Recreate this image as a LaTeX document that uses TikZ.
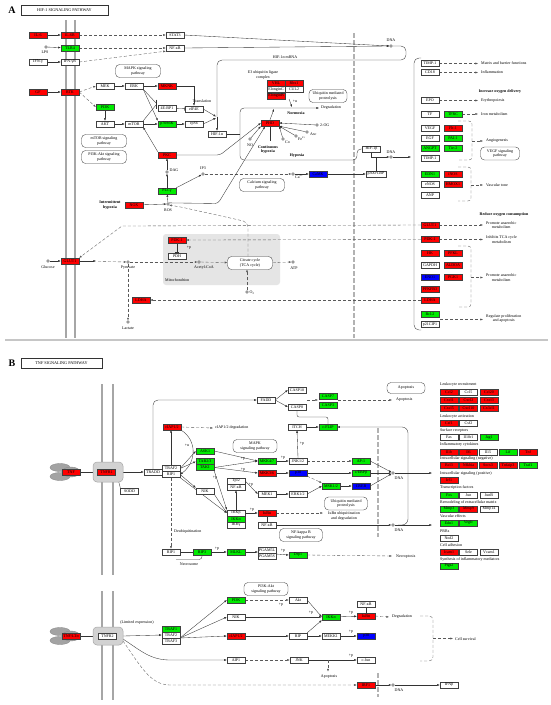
\documentclass[tikz,border=0pt]{standalone}
\usepackage{fontspec}
\setmainfont{Liberation Serif}
\usetikzlibrary{arrows.meta}
\pgfdeclarelayer{bgz}
\pgfdeclarelayer{bgc}
\pgfsetlayers{bgz,bgc,main}
\definecolor{kred}{RGB}{255,0,0}
\definecolor{kgreen}{RGB}{0,235,0}
\definecolor{kblue}{RGB}{0,0,255}
\tikzset{
 every node/.style={font=\fontsize{4}{4.5}\selectfont, inner sep=0pt},
 g/.style={draw=black!75, line width=0.35pt, minimum width=18pt, minimum height=6pt, inner sep=0pt, fill=white},
 rd/.style={fill=kred}, gn/.style={fill=kgreen}, bl/.style={fill=kblue},
 pw/.style={draw=black!75, line width=0.35pt, rounded corners=4pt, minimum width=#1pt, minimum height=13pt, align=center, fill=white, inner sep=1pt},
 pw/.default=45,
 cpd/.style={circle, draw=black!80, line width=0.35pt, minimum size=2.8pt, inner sep=0pt, fill=white},
 lbl/.style={align=center},
 blbl/.style={align=center, font=\bfseries\fontsize{4}{4.5}\selectfont},
 ar/.style={-{Latex[length=2.6pt,width=2pt]}, line width=0.35pt, draw=black!80},
 da/.style={ar, draw=black!65, dash pattern=on 3pt off 2pt},
 dl/.style={line width=0.35pt, draw=black!65, dash pattern=on 3pt off 2pt},
 ln/.style={line width=0.35pt, draw=black!80},
 inh/.style={-{Bar[width=4pt]}, line width=0.35pt, draw=black!80},
 mem/.style={draw=gray!70, line width=1.4pt},
 ttl/.style={draw=black!80, line width=0.5pt, minimum height=10pt, font=\fontsize{4.2}{4.2}\selectfont},
 big/.style={font=\bfseries\fontsize{10}{10}\selectfont},
 rcp/.style={fill=gray!35, draw=gray!70, line width=0.5pt, rounded corners=4pt},
 lig/.style={fill=gray!72, draw=gray!90, line width=0.4pt},
}
\begin{document}
\begin{tikzpicture}[x=1pt,y=-1pt]
\useasboundingbox (0,0) rectangle (550,705);
\begin{pgfonlayer}{bgz}
\fill[white] (0,0) rectangle (550,705);
\draw[mem] (66,20) -- (66,338);
\draw[mem] (75,20) -- (75,338);
\draw[gray!45, line width=1.5pt] (5,340) -- (548,340);
\draw[gray!60, line width=1.3pt, dash pattern=on 5pt off 2pt] (354,33) -- (354,338);
\fill[gray!20, rounded corners=3pt] (163,234) rectangle (280,285);
\draw[mem] (102,384) -- (102,575);
\draw[mem] (113,384) -- (113,575);
\draw[mem] (102,591) -- (102,700);
\draw[mem] (113,591) -- (113,700);
\draw[gray!60, line width=1.3pt, dash pattern=on 5pt off 2pt] (378,428) -- (378,537);
\draw[gray!60, line width=1.3pt, dash pattern=on 5pt off 2pt] (378,673) -- (378,697);
\end{pgfonlayer}

% ================= PANEL A =================
\node[big] (LA) at (12,10) {A};
\node[ttl, minimum width=87pt] (TA) at (64.5,10) {HIF-1 SIGNALING PATHWAY};

\node[g,rd] (IL6) at (38,35) {IL-6};
\node[g,rd] (IL6R) at (70,35) {IL-6R};
\node[g] (STAT3) at (175,35) {STAT3};
\node[g,gn] (TLR4) at (70,48) {TLR4};
\node[g] (NFkBa) at (175,48) {NF-κB};
\node[cpd] (LPS) at (46,47) {};
\node[lbl] (LPSl) at (45,52) {LPS};
\node[g] (IFNg) at (38,62) {IFN-γ};
\node[g] (IFNgR) at (70,62) {IFN-γR};
\node[pw] (MAPKa) at (138,71) {MAPK signaling\\pathway};
\node[g,rd] (GF) at (38,92) {GF};
\node[g,rd] (RTK) at (70,92) {RTK};
\node[g] (MEK) at (105,86) {MEK};
\node[g] (ERK) at (134,86) {ERK};
\node[g,rd] (MKNK) at (167,86) {MKNK};
\node[g,gn] (PI3Ka) at (105,107) {PI3K};
\node[g] (EBP) at (167,108) {4E-BP1};
\node[g] (AKT) at (105,124) {AKT};
\node[g] (mTOR) at (134,124) {mTOR};
\node[g,gn] (S6K) at (167,124) {p70S6K};
\node[pw] (mTORpw) at (104,141) {mTOR signaling\\pathway};
\node[pw] (PI3Kpw) at (104,157) {PI3K-Akt signaling\\pathway};
\node[g,rd] (PKC) at (167,155) {PKC};
\node[cpd] (DAG) at (167,172) {};
\node[lbl,anchor=west] (DAGl) at (169.5,170.5) {DAG};
\node[g,gn] (PLCg) at (167,191) {PLCγ};
\node[cpd] (ROS) at (168,204) {};
\node[lbl] (ROSl) at (168,210) {ROS};
\node[g,rd] (NOX) at (134,205) {NOX};
\node[blbl] (IHl) at (110,205) {Intermittent\\hypoxia};
\node[g] (eIF4E) at (194,109) {eIF4E};
\node[g] (rpS6) at (194,124) {rpS6};
\node[lbl] (Trl) at (202,101) {Translation};
\node[g] (HIF1a) at (217,134) {HIF-1α};
\node[lbl] (mRNAl) at (285,57) {HIF-1α mRNA};
\node[lbl] (E3l) at (263,75) {E3 ubiquitin ligase\\complex};
\node[g,rd] (VHL) at (276,83) {VHL};
\node[g,rd] (Rbx1) at (294,83) {Rbx1};
\node[g] (EloC) at (276,89.5) {ElonginC};
\node[g] (CUL2) at (294,89.5) {CUL2};
\node[g,rd] (EloB) at (276,96) {ElonginB};
\node[pw=38] (Ubpw) at (328,96) {Ubiquitin mediated\\proteolysis};
\node[blbl] (Norl) at (296,113) {Normoxia};
\node[lbl,anchor=west] (Degl) at (321,108) {Degradation};
\node[g,rd] (PHD) at (270,123) {PHD};
\node[cpd] (OG) at (317,125) {};
\node[lbl,anchor=west] (OGl) at (320,125.5) {2-OG};
\node[cpd] (Asc) at (307,132) {};
\node[lbl,anchor=west] (Ascl) at (310,134) {Asc};
\node[cpd] (Fe) at (296,136) {};
\node[lbl,anchor=west] (Fel) at (298,139) {Fe\textsuperscript{2+}};
\node[cpd] (Co) at (283,139) {};
\node[lbl,anchor=west] (Col) at (285,142) {Co};
\node[cpd] (NO) at (250,139) {};
\node[lbl] (NOl) at (250,145) {NO};
\node[blbl] (CHl) at (268,149.5) {Continuous\\hypoxia};
\node[blbl] (Hyl) at (297,156) {Hypoxia};
\node[g] (HIF1b) at (371.5,149) {HIF-1β};
\node[cpd] (DNA2) at (391,157) {};
\node[lbl] (DNA2l) at (391,152.5) {DNA};
\node[g, minimum width=20pt] (p300) at (376,174) {p300/CBP};
\node[cpd] (IP3) at (203,174) {};
\node[lbl] (IP3l) at (203,168.5) {IP3};
\node[cpd] (Ca) at (293,174) {};
\node[lbl,anchor=west] (Cal) at (295,176.5) {Ca\textsuperscript{2+}};
\node[pw] (Calpw) at (262,185) {Calcium signaling\\pathway};
\node[g,bl] (CaMK) at (318,174) {CaMK};
\node[cpd] (DNA1) at (391,46) {};
\node[lbl] (DNA1l) at (391,40.5) {DNA};

\node[g] (gTIMPa) at (430,63.5) {TIMP-1};
\node[g] (gCD18) at (430,72.5) {CD18};
\node[blbl] (IODl) at (500,92) {Increase oxygen delivery};
\node[g] (gEPO) at (430,100.5) {EPO};
\node[g] (gTF) at (430,114) {TF};
\node[g,gn] (gTFRC) at (453,114) {TFRC};
\node[g] (gVEGF) at (430,128) {VEGF};
\node[g,rd] (gFlt1) at (453,128) {Flt-1};
\node[g] (gEGF) at (430,138) {EGF};
\node[g,gn] (gPAI1) at (453,138) {PAI-1};
\node[g,gn] (gANGPT) at (430,148) {ANGPT};
\node[g,gn] (gTie2) at (453,148) {Tie-2};
\node[g] (gTIMPb) at (430,158) {TIMP-1};
\node[pw=39] (VEGFpw) at (500,153.5) {VEGF signaling\\pathway};
\node[g,gn] (gEDN1) at (430,174.5) {EDN1};
\node[g,rd] (giNOS) at (453,174.5) {iNOS};
\node[g] (geNOS) at (430,184.5) {eNOS};
\node[g,rd] (gHMOX1) at (453,184.5) {HMOX1};
\node[g] (gANP) at (430,195) {ANP};
\node[blbl] (ROCl) at (504,215) {Reduce oxygen consumption};
\node[g,rd] (gGLUT1) at (430,225) {GLUT1};
\node[g,rd] (gPDK1) at (430,239.5) {PDK-1};
\node[g,rd] (gHK) at (430,253) {HK};
\node[g,rd] (gPFKL) at (453,253) {PFKL};
\node[g] (gGAPDH) at (430,265.5) {GAPDH};
\node[g,rd] (gALDOA) at (453,265.5) {ALDOA};
\node[g,bl] (gENO1) at (430,277.5) {ENO1};
\node[g,rd] (gPGK1) at (453,277.5) {PGK1};
\node[g,rd] (gPFKFB3) at (430,289) {PFKFB3};
\node[g,rd] (gLDHA) at (430,300) {LDHA};
\node[g,gn] (gBcl2) at (430,314.5) {Bcl-2};
\node[g] (gp21) at (430,324.5) {p21CIP1};

\node[lbl,anchor=west] (o1) at (481,63.5) {Matrix and barrier functions};
\node[lbl,anchor=west] (o2) at (481,72.5) {Inflammation};
\node[lbl,anchor=west] (o3) at (481,100.5) {Erythropoiesis};
\node[lbl,anchor=west] (o4) at (481,114) {Iron metabolism};
\node[lbl,anchor=west] (o5) at (486,141) {Angiogenesis};
\node[lbl,anchor=west] (o6) at (486,185) {Vascular tone};
\node[lbl,anchor=west] (o7) at (486,225) {Promote anaerobic\\metabolism};
\node[lbl,anchor=west] (o8) at (486,239.5) {Inhibits TCA cycle\\metabolism};
\node[lbl,anchor=west] (o9) at (486,277.5) {Promote anaerobic\\metabolism};
\node[lbl,anchor=west] (o10) at (486,318.5) {Regulate proliferation\\and apoptosis};

\node[cpd] (Glc) at (48,261) {};
\node[lbl] (Glcl) at (48,267) {Glucose};
\node[g,rd] (Glut) at (70,261) {GLUT1};
\node[cpd] (Pyr) at (128,262) {};
\node[lbl] (Pyrl) at (128,268) {Pyruvate};
\node[cpd] (Lac) at (128,322) {};
\node[lbl] (Lacl) at (128,328) {Lactate};
\node[g,rd] (LDHA) at (141,300) {LDHA};
\node[g,rd] (PDK1) at (177,240) {PDK-1};
\node[g] (PDH) at (177,256) {PDH};
\node[cpd] (AcCoA) at (199,262) {};
\node[lbl] (AcCoAl) at (204,268) {Acetyl-CoA};
\node[pw] (TCA) at (250,263) {Citrate cycle\\(TCA cycle)};
\node[cpd] (ATP) at (293,262) {};
\node[lbl] (ATPl) at (294,268) {ATP};
\node[cpd] (O2) at (247,292) {};
\node[lbl,anchor=west] (O2l) at (249.5,292.5) {O\textsubscript{2}};
\node[lbl,anchor=west] (Mitl) at (165,280) {Mitochondrion};
\node[lbl] (pPDK) at (189,248) {+p};
\node[lbl] (pu) at (295,101) {+u};

% ================= PANEL B =================
\node[big] (LB) at (12,363) {B};
\node[ttl, minimum width=81pt] (TB) at (61.5,363) {TNF SIGNALING PATHWAY};

\filldraw[lig] (60,467.5) ellipse [x radius=10pt, y radius=4pt];
\filldraw[lig] (60,476.5) ellipse [x radius=10pt, y radius=4pt];
\filldraw[lig] (71,472) ellipse [x radius=9pt, y radius=5pt];
\filldraw[rcp] (93,462) rectangle (123,482);
\node[g,rd] (TNF) at (71,472) {TNF};
\node[g,rd] (TNFR1) at (106.5,472) {TNFR1};
\node[g] (SODD) at (129.5,491) {SODD};
\node[g] (TRADD) at (153,472) {TRADD};
\node[g] (TRAF2) at (171,468.5) {TRAF2};
\node[g] (RIP1) at (171,474.5) {RIP1};
\node[g,rd] (cIAP) at (172,427) {cIAP1/2};
\node[lbl,anchor=west] (cIAPd) at (215,428) {cIAP1/2 degradation};
\node[g] (FADD) at (266,400) {FADD};
\node[g] (CASP10) at (297,390) {CASP10};
\node[g] (CASP8) at (297,407) {CASP8};
\node[g,gn] (CASP7) at (328,396) {CASP7};
\node[g,gn] (CASP3) at (328,405) {CASP3};
\node[pw=38, minimum height=11pt] (ApoPW) at (406,388) {Apoptosis};
\node[lbl,anchor=west] (Apol) at (396,400) {Apoptosis};
\node[g,gn] (cFLIP) at (328,427) {c-FLIP};
\node[g] (ITCH) at (297,427) {ITCH};
\node[g,gn] (ASK1) at (205,451) {ASK1};
\node[g,gn] (TAB) at (205,461.5) {TAB2/3};
\node[g,gn] (TAK1) at (205,467.5) {TAK1};
\node[pw=44] (MAPKb) at (255,446) {MAPK\\signaling pathway};
\node[g,gn] (MKK47) at (267,461) {MKK4/7};
\node[g,rd] (MKK36) at (267,473) {MKK3/6};
\node[g] (MEK1) at (267,494) {MEK1};
\node[g] (JNK12) at (298,461) {JNK1/2};
\node[g,bl] (p38) at (298,473) {p38};
\node[g] (ERK12) at (298,494) {ERK1/2};
\node[g,gn] (MSK) at (331,486) {MSK1/2};
\node[g,gn] (AP1) at (361,461) {AP-1};
\node[g,gn] (CEBP) at (361,473) {c/EBPβ};
\node[g,bl] (CREB) at (361,486) {CREB};
\node[cpd] (DNA3) at (393,473) {};
\node[lbl] (DNA3l) at (399,478) {DNA};
\node[g] (NIK) at (205,491) {NIK};
\node[g] (Tpl2) at (236,481) {Tpl2};
\node[g] (NFkBt) at (236,487) {NF-κB};
\node[g] (IKKb) at (236,513) {IKKβ};
\node[g,gn] (IKKa) at (236,519) {IKKα};
\node[g] (IKKg) at (236,525) {IKKγ};
\node[g,rd] (IkBa) at (267,513) {IκBα};
\node[g] (NFkBb) at (267,525) {NF-κB};
\node[pw=43] (UbB) at (346,503.5) {Ubiquitin mediated\\proteolysis};
\node[lbl] (IkBdl) at (344,516) {IκBα ubiquitination\\and degradation};
\node[cpd] (DNA4) at (393,525) {};
\node[lbl] (DNA4l) at (399,530) {DNA};
\node[lbl] (pu1) at (187,445) {+u};
\node[lbl] (pp1) at (243,459) {+p};
\node[lbl] (pp2) at (243,469.5) {+p};
\node[lbl] (pp3) at (215,478) {+p};
\node[lbl] (pp4) at (251,485) {+p};
\node[lbl] (pp5) at (283,458) {+p};
\node[lbl] (pp6) at (302,444) {+p};
\node[lbl] (pp7) at (252,509.5) {+p};

\node[g] (RIP1b) at (171,552) {RIP1};
\node[g,gn] (RIP3) at (202,552) {RIP3};
\node[g,gn] (MLKL) at (236,552) {MLKL};
\node[g] (PGAM5L) at (267,550.5) {PGAM5L};
\node[g] (PGAM5S) at (267,556.5) {PGAM5S};
\node[g,gn] (Drp1) at (298,555) {Drp1};
\node[pw=43] (NFkBpw) at (301,535) {NF-kappa B\\signaling pathway};
\node[lbl,anchor=west] (Necl) at (396,556.5) {Necroptosis};
\node[lbl,anchor=west] (Deul) at (174,532) {Deubiquitination};
\node[lbl] (Nsl) at (189,564) {Necrosome};
\node[lbl] (pp8) at (217,548.5) {+p};
\node[lbl] (pp9) at (283,550.5) {+p};

\filldraw[lig] (60,631.5) ellipse [x radius=10pt, y radius=4pt];
\filldraw[lig] (60,640.5) ellipse [x radius=10pt, y radius=4pt];
\filldraw[lig] (71,636) ellipse [x radius=9pt, y radius=5pt];
\filldraw[rcp] (93,627) rectangle (123,645);
\node[g,rd] (TNFLT) at (71,636) {TNF/LTα};
\node[g] (TNFR2) at (107.5,636) {TNFR2};
\node[lbl] (Liml) at (137,623) {(Limited expression)};
\node[g,gn] (TRAF1) at (171,629) {TRAF1};
\node[g] (TRAF2b) at (171,635) {TRAF2};
\node[g] (TRAF3) at (171,641) {TRAF3};
\node[g,gn] (PI3Kb) at (236,600) {PI3K};
\node[pw=44] (PIAktpw) at (266,589) {PI3K-Akt\\signaling pathway};
\node[g] (Akt) at (298,600) {Akt};
\node[g] (NIKb) at (236,617) {NIK};
\node[g,rd] (cIAPb) at (236,636) {cIAP1/2};
\node[g] (RIP) at (298,636) {RIP};
\node[g] (MEKK1) at (331,636) {MEKK1};
\node[g,gn] (IKKs) at (331,617) {IKKα};
\node[g] (NFkBc) at (366,604) {NF-κB};
\node[g,rd] (IkBab) at (366,616) {IκBα};
\node[g,bl] (p38b) at (366,636) {p38};
\node[g] (cJun) at (366,660) {c-Jun};
\node[g] (AIP1) at (236,660) {AIP1};
\node[g] (JNK) at (299,660) {JNK};
\node[lbl] (Apo2l) at (329,676.5) {Apoptosis};
\node[g,rd] (IRF1) at (366,685) {IRF1};
\node[cpd] (DNA5) at (393,685) {};
\node[lbl] (DNA5l) at (399,690) {DNA};
\node[g] (IFNb) at (449,685) {IFNβ};
\node[lbl,anchor=west] (Deg2l) at (392,617) {Degradation};
\node[lbl,anchor=west] (CSl) at (455,639) {Cell survival};
\node[lbl] (pq1) at (281,604.5) {+p};
\node[lbl] (pq2) at (311,613) {+p};
\node[lbl] (pq3) at (351,612.5) {+p};
\node[lbl] (pq4) at (351,632) {+p};
\node[lbl] (pq5) at (351,656) {+p};

\node[lbl,anchor=west] (h1) at (440,385) {Leukocyte recruitment};
\node[g,rd] (b11) at (449,392) {Ccl2};
\node[g] (b12) at (468.5,392) {Ccl5};
\node[g,rd] (b13) at (489,392) {Ccl20};
\node[g,rd] (b21) at (449,400) {Cxcl1};
\node[g,rd] (b22) at (468.5,400) {Cxcl2};
\node[g,rd] (b23) at (489,400) {Cxcl3};
\node[g,rd] (b31) at (449,408.5) {Cxcl5};
\node[g,rd] (b32) at (468.5,408.5) {Cxcl10};
\node[g,rd] (b33) at (489,408.5) {Cx3cl1};
\node[lbl,anchor=west] (h2) at (440,416.5) {Leukocyte activation};
\node[g,rd] (b41) at (449,423) {Csf1};
\node[g] (b42) at (468.5,423) {Csf2};
\node[lbl,anchor=west] (h3) at (440,431) {Surface receptors};
\node[g] (b51) at (449,437.5) {Fas};
\node[g] (b52) at (468.5,437.5) {Il18r1};
\node[g,gn] (b53) at (489,437.5) {Jag1};
\node[lbl,anchor=west] (h4) at (440,445) {Inflammatory cytokines};
\node[g,rd] (b61) at (449,452) {Il1b};
\node[g,rd] (b62) at (468.5,452) {Il6};
\node[g] (b63) at (488,452) {Il15};
\node[g,gn] (b64) at (508,452) {Lif};
\node[g,rd] (b65) at (528,452) {Tnf};
\node[lbl,anchor=west] (h5) at (440,459) {Intracellular signaling (negative)};
\node[g,rd] (b71) at (449,465.5) {Bcl3};
\node[g,rd] (b72) at (468.5,465.5) {Nfkbia};
\node[g,rd] (b73) at (488,465.5) {Socs3};
\node[g,rd] (b74) at (508,465.5) {Tnfaip3};
\node[g,gn] (b75) at (528,465.5) {Traf1};
\node[lbl,anchor=west] (h6) at (440,473.5) {Intracellular signaling (positive)};
\node[g,rd] (b81) at (449,480.5) {Irf1};
\node[lbl,anchor=west] (h7) at (440,488) {Transcription factors};
\node[g,gn] (b91) at (449,495) {Fos};
\node[g] (b92) at (468.5,495) {Jun};
\node[g] (b93) at (489,495) {JunB};
\node[lbl,anchor=west] (h8) at (440,502.5) {Remodeling of extracellular matrix};
\node[g,gn] (b101) at (449,509) {Mmp3};
\node[g,rd] (b102) at (468.5,509) {Mmp9};
\node[g] (b103) at (489,509) {Mmp14};
\node[lbl,anchor=west] (h9) at (440,516.5) {Vascular effects};
\node[g,gn] (b111) at (449,523) {Edn1};
\node[g,gn] (b112) at (468.5,523) {Vegfc};
\node[lbl,anchor=west] (h10) at (440,531) {PRRs};
\node[g] (b121) at (449,538) {Nod2};
\node[lbl,anchor=west] (h11) at (440,545.5) {Cell adhesion};
\node[g,rd] (b131) at (449,552) {Icam1};
\node[g] (b132) at (468.5,552) {Sele};
\node[g] (b133) at (489,552) {Vcam1};
\node[lbl,anchor=west] (h12) at (440,559.5) {Synthesis of inflammatory mediators};
\node[g,gn] (b141) at (449,566) {Ptgs2};

% ================= CONNECTORS =================
\begin{pgfonlayer}{bgc}
\draw[ar] (IL6) -- (IL6R);
\draw[da] (IL6R) -- (STAT3);
\draw[ar] (LPS) -- (TLR4);
\draw[da] (TLR4) -- (NFkBa);
\draw[ar] (IFNg) -- (IFNgR);
\draw[da] (IFNgR.east) -- (NFkBa.south west);
\draw[ar] (STAT3.east) -- (DNA1.west);
\draw[ar] (NFkBa.east) -- (DNA1.west);
\draw[ln, rounded corners=5pt] (DNA1.east) -| (406,60) -- (217,60) -- (217,117);
\draw[ar] (217,117) -- (HIF1a.north);
\draw[ar] (eIF4E.east) -- (216,116.5);
\draw[ar] (rpS6.east) -- (216,118);
\draw[ar] (GF) -- (RTK);
\draw[da] (RTK.east) -- (MEK.west);
\draw[da] (RTK.east) -- (PI3Ka.west);
\draw[ar] (MEK) -- (ERK);
\draw[ar] (ERK) -- (MKNK);
\draw[ar] (ERK.south east) -- (S6K.north west);
\draw[ln] (ERK.south east) -- (156,103);
\draw[ln] (mTOR.north east) -- (156,105);
\draw[ln] (156,99.5) -- (156,108.5);
\draw[ar] (PI3Ka) -- (AKT);
\draw[ar] (AKT) -- (mTOR);
\draw[ar] (mTOR) -- (S6K);
\draw[ar] (S6K) -- (rpS6);
\draw[inh] (EBP) -- (eIF4E);
\draw[ar] (MKNK.east) -| (eIF4E.north);
\draw[ar] (PKC.north west) -- (mTOR.south east);
\draw[ar] (DAG) -- (PKC);
\draw[ar] (PLCg) -- (DAG);
\draw[ar] (PLCg.north east) -- (IP3);
\draw[ar] (ROS) -- (PLCg);
\draw[ar] (NOX) -- (ROS);
\draw[da] (IP3) -- (Ca);
\draw[ar] (Ca) -- (CaMK);
\draw[ar] (CaMK) -- (p300);
\draw[ar, rounded corners=3pt] (PKC.east) -- (220,155) -- (PHD.west);
\draw[ar, rounded corners=3pt] (ROS.north east) -- (218,203.5) -- (265,126.5);
\draw[ar] (PHD.north) -- (274,109);
\draw[ln] (HIF1a.east) -- (240,134);
\draw[ar, rounded corners=4pt] (HIF1b.west) -| (357,160) -- (240,160) |- (319,108);
\draw[ar] (289,99) -- (292,107);
\draw[ar] (OG) -- (PHD.east);
\draw[ar] (Asc) -- (PHD.south east);
\draw[ar] (Fe) -- (PHD.south east);
\draw[ar] (Co) -- (PHD.south east);
\draw[ar] (NO) -- (PHD.south west);
\draw[ln] (270,127) -- (270,141);
\draw[ar] (HIF1b.south) |- (DNA2.west);
\draw[ln] (p300.north) -- (376,157);
\draw[ar] (DNA2.east) -- (411,157);
\draw[ln, rounded corners=5pt] (421,58) -- (414,58) -- (414,330) -- (421,330);
\draw[da] (gTIMPa) -- (478,63.5);
\draw[da] (gCD18) -- (478,72.5);
\draw[da] (gEPO) -- (478,100.5);
\draw[da] (gTFRC) -- (478,114);
\draw[dl, rounded corners=3pt] (458,121) -| (472,160) -- (458,160);
\draw[da] (472,141) -- (483,141);
\draw[dl, rounded corners=3pt] (458,167) -| (471,201) -- (458,201);
\draw[da] (471,185) -- (483,185);
\draw[da] (gGLUT1) -- (483,225);
\draw[da] (gPDK1) -- (483,239.5);
\draw[dl, rounded corners=3pt] (458,246) -| (471,307) -- (458,307);
\draw[da] (471,277.5) -- (483,277.5);
\draw[da] (440,319.5) -- (483,319.5);
\draw[ar] (Glc) -- (Glut);
\draw[ar] (Glut) -- (96,261);
\draw[da] (98,261.5) -- (Pyr);
\draw[da] (Pyr) -- (AcCoA);
\draw[da] (AcCoA) -- (TCA);
\draw[da] (TCA) -- (ATP);
\draw[da] (O2) -- (247,269.5);
\draw[da] (Pyr) -- (Lac);
\draw[da] (gLDHA.west) -- (LDHA.east);
\draw[da] (gGLUT1.west) -- (122,226) -- (Glut.north east);
\draw[da] (gPDK1.west) -- (PDK1.east);
\draw[inh] (PDK1.south) -- (PDH.north);
\draw[da, rounded corners=5pt] (248,256.5) -- (248,222) -- (181,207) -- (ROS.south east);

\draw[ar] (TNF.east) -- (TNFR1.west);
\draw[ar] (123,472) -- (TRADD.west);
\draw[ln] (118,479) -- (SODD.north west);
\draw[ar, rounded corners=5pt] (TRADD.north) |- (FADD.west);
\draw[ar] (171,465.5) -- (171,430);
\draw[da] (cIAP.east) -- (213,428);
\draw[ar] (cIAP.south east) .. controls (197,440) and (197,462) .. (RIP1.east);
\draw[ar] (FADD.east) -- (CASP10.west);
\draw[ar] (FADD.east) -- (CASP8.west);
\draw[da] (307,400) -- (318,400);
\draw[da] (338,400) -- (392,400);
\draw[inh, rounded corners=2pt] (cFLIP.north) |- (297,417) -- (CASP8.south);
\draw[ar] (ITCH) -- (cFLIP);
\draw[ar] (JNK12.north) -- (ITCH.south);
\draw[ar] (TRAF2.east) -- (ASK1.west);
\draw[ar] (TRAF2.east) -- (TAB.west);
\draw[ar] (RIP1.east) -- (NIK.north west);
\draw[ar] (RIP1.south east) -- (IKKb.west);
\draw[ar] (ASK1.east) -- (MKK47.west);
\draw[ar] (TAK1.east) -- (MKK47.west);
\draw[ar] (TAK1.east) -- (MKK36.west);
\draw[ar] (TAK1.south east) -- (IKKb.north west);
\draw[ar] (NIK.south east) -- (IKKb.west);
\draw[ar] (IKKb.north) -- (NFkBt.south);
\draw[ar] (Tpl2.east) -- (MEK1.west);
\draw[ar] (MKK47) -- (JNK12);
\draw[ar] (MKK36) -- (p38);
\draw[ar] (MEK1) -- (ERK12);
\draw[da] (JNK12) -- (AP1);
\draw[ar] (p38) -- (CEBP);
\draw[da] (p38.south east) -- (MSK.north west);
\draw[ar] (ERK12.east) -- (MSK.west);
\draw[ar] (MSK) -- (CREB);
\draw[ar] (AP1.east) -- (DNA3);
\draw[ar] (CEBP.east) -- (DNA3);
\draw[ar] (CREB.east) -- (DNA3);
\draw[ar] (DNA3.east) -- (432,473);
\draw[ar] (IKKb.east) -- (IkBa.west);
\draw[ln] (IkBa.south) -- (NFkBb.north);
\draw[da] (IkBa.east) -- (323,513);
\draw[ar] (NFkBb.east) -- (DNA4.west);
\draw[ar] (DNA4.east) -- (432,525);
\draw[ar, rounded corners=6pt] (398,525) -| (408,427) -- (cFLIP.east);
\draw[da] (RIP1.south) -- (RIP1b.north);
\draw[ln] (RIP1b) -- (RIP3);
\draw[ar] (RIP3) -- (MLKL);
\draw[ar] (MLKL) -- (258,552);
\draw[ar] (276,554) -- (Drp1.west);
\draw[da] (Drp1.east) -- (392,556);
\draw[ln, rounded corners=3pt] (RIP3.south) |- (176,559.5);

\draw[ar] (TNFLT.east) -- (TNFR2.west);
\draw[ar] (123,636) -- (TRAF2b.west);
\draw[ar] (180,638) -- (PI3Kb.west);
\draw[ar] (180,638) -- (NIKb.west);
\draw[ar] (180,638) -- (cIAPb.west);
\draw[ar] (123,639) .. controls (140,650) and (150,660) .. (170,660) -- (AIP1.west);
\draw[da] (123,641) .. controls (140,665) and (150,685) .. (170,685) -- (IRF1.west);
\draw[da] (PI3Kb) -- (Akt);
\draw[ar] (Akt.east) -- (IKKs.west);
\draw[ar] (NIKb.east) -- (IKKs.west);
\draw[ar] (cIAPb) -- (RIP);
\draw[ar] (RIP.east) -- (MEKK1.west);
\draw[ar] (RIP.north east) -- (IKKs.south west);
\draw[ar] (MEKK1) -- (p38b);
\draw[ar] (IKKs) -- (IkBab);
\draw[ln] (IkBab.north) -- (NFkBc.south);
\draw[da] (IkBab.east) -- (389,617);
\draw[dl, rounded corners=4pt] (420,616) -| (433,661) -- (420,661);
\draw[da] (433,638.5) -- (453,638.5);
\draw[da] (AIP1) -- (JNK);
\draw[ar] (JNK) -- (cJun);
\draw[da] (328,660) -- (328,671.5);
\draw[ar] (IRF1) -- (DNA5);
\draw[ar] (DNA5) -- (IFNb);
\end{pgfonlayer}
\end{tikzpicture}
\end{document}
